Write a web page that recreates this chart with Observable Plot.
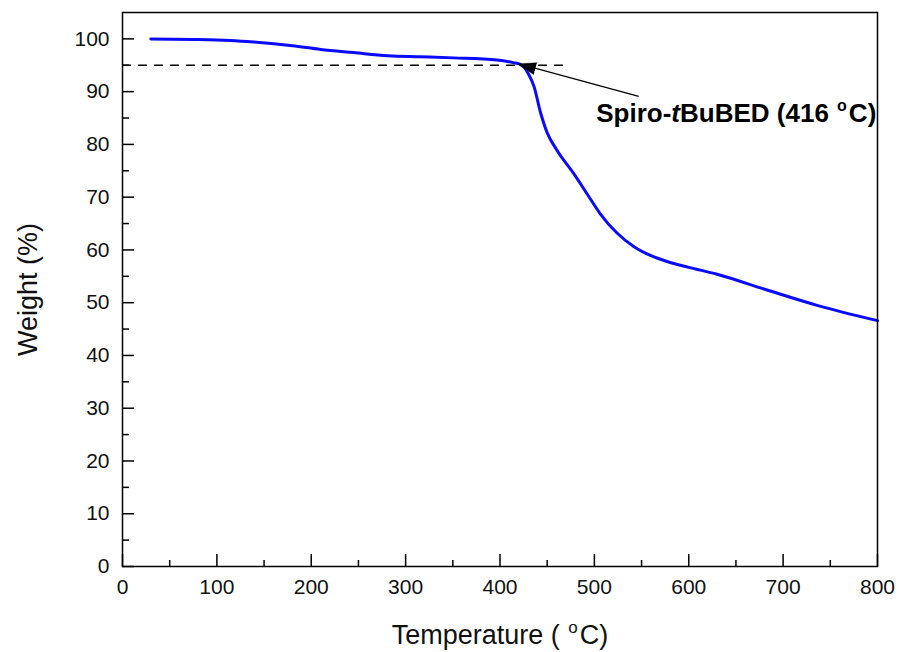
<!DOCTYPE html>
<html><head><meta charset="utf-8">
<script src="https://cdn.jsdelivr.net/npm/d3@7"></script>
<script src="https://cdn.jsdelivr.net/npm/@observablehq/plot@0.6"></script>
<style>html,body{margin:0;padding:0;background:#fff;} svg{display:block}</style>
</head><body><div id="chart"></div>
<script>
// TGA curve values
const temperature = [30, 80, 114, 139, 180, 210, 245, 281, 316, 351, 397, 414, 421, 426, 430, 436, 443, 450, 460, 478, 492, 506, 524, 542, 560, 577, 600, 630, 683, 736, 800];
const weight = [100.0, 99.9, 99.7, 99.4, 98.7, 98.0, 97.4, 96.8, 96.6, 96.4, 96.0, 95.5, 95.2, 94.5, 93.4, 91.0, 86.0, 82.2, 79.0, 74.5, 70.7, 66.9, 63.2, 60.6, 58.9, 57.8, 56.7, 55.4, 52.4, 49.5, 46.6];

// tick values
const xMajor = [0, 100, 200, 300, 400, 500, 600, 700, 800];
const xMinor = [50, 150, 250, 350, 450, 550, 650, 750];
const yMajor = [0, 10, 20, 30, 40, 50, 60, 70, 80, 90, 100];
const yMinor = [5, 15, 25, 35, 45, 55, 65, 75, 85, 95];

// annotation
const refLevel = [95];
const refLineX = [0, 473];
const arrowTail = [547, 89.1];
const arrowBase = [436, 94.5];
const arrowTip = [419, 95.25];
const labelPos = [502, 84.2];
const labelText = "Spiro-tBuBED (416 °C)";
const xTitle = "Temperature ( °C)";
const yTitle = "Weight (%)";

const curve = temperature.map((t, i) => ({t, w: weight[i]}));

const W = 899, H = 652, mL = 122, mR = 22, mT = 12, mB = 86;
const plotW = W - mL - mR, plotH = H - mT - mB;

const svg = Plot.plot({
  width: W, height: H,
  marginLeft: mL, marginRight: mR, marginTop: mT, marginBottom: mB,
  style: {fontFamily: "'Liberation Sans', Arial, sans-serif", color: "#000", background: "#fff", overflow: "visible"},
  x: {domain: [0, 800]},
  y: {domain: [0, 105]},
  marks: [
    Plot.ruleY(refLevel, {y: d => d, x1: refLineX[0], x2: refLineX[1], stroke: "#000", strokeWidth: 1.3, strokeDasharray: "9,7"}),
    Plot.line(curve, {x: "t", y: "w", stroke: "#0a0aff", strokeWidth: 3, curve: "monotone-x"}),
    Plot.link([0], {x1: () => arrowTail[0], y1: () => arrowTail[1], x2: () => arrowBase[0], y2: () => arrowBase[1], stroke: "#000", strokeWidth: 1.2}),
    Plot.vector([0], {x: () => arrowTip[0], y: () => arrowTip[1], length: 18, r: 6, rotate: -74.8, anchor: "end", shape: "spike", fill: "#000", stroke: "#000", strokeWidth: 0.5, fillOpacity: 1}),
    Plot.frame({stroke: "#000", strokeWidth: 1.5}),
    Plot.tickX(xMajor, {x: d => d, insetTop: plotH - 12, stroke: "#000", strokeWidth: 1.5}),
    Plot.tickX(xMinor, {x: d => d, insetTop: plotH - 6, stroke: "#000", strokeWidth: 1.5}),
    Plot.tickY(yMajor, {y: d => d, insetRight: plotW - 12, stroke: "#000", strokeWidth: 1.5}),
    Plot.tickY(yMinor, {y: d => d, insetRight: plotW - 7, stroke: "#000", strokeWidth: 1.5}),
    Plot.axisX(xMajor, {anchor: "bottom", tickSize: 0, tickPadding: 13, fontSize: 21, label: null, fill: "#111"}),
    Plot.axisY(yMajor, {anchor: "left", tickSize: 0, tickPadding: 13, fontSize: 21, label: null, fill: "#111"}),
    Plot.text([labelText], {x: () => labelPos[0], y: () => labelPos[1], text: d => d, textAnchor: "start", lineAnchor: "bottom", fontSize: 26, fontWeight: "bold", fill: "#000"}),
    Plot.text([xTitle], {frameAnchor: "bottom", text: d => d, dy: 77, textAnchor: "middle", lineAnchor: "bottom", fontSize: 27, fill: "#111"}),
    Plot.text([yTitle], {frameAnchor: "left", text: d => d, dx: -86, rotate: -90, textAnchor: "middle", lineAnchor: "bottom", fontSize: 27, fill: "#111"})
  ]
});

// rich text: superscript "o" and italic "t"
const NS = "http://www.w3.org/2000/svg";
function rebuild(t, parts, fs) {
  while (t.firstChild) t.removeChild(t.firstChild);
  let raised = 0;
  for (const p of parts) {
    const ts = document.createElementNS(NS, "tspan");
    ts.textContent = p.s;
    if (p.sup) {
      const r = Math.round(fs * 0.42);
      ts.setAttribute("font-size", Math.round(fs * 0.62));
      ts.setAttribute("dy", -r);
      ts.setAttribute("dx", 1);
      raised = r;
    } else if (raised) {
      ts.setAttribute("dy", raised);
      ts.setAttribute("dx", 2);
      raised = 0;
    }
    if (p.it) ts.setAttribute("font-style", "italic");
    t.appendChild(ts);
  }
}
svg.querySelectorAll("text").forEach(t => {
  const s = t.textContent;
  if (s === labelText) {
    rebuild(t, [{s: "Spiro-"}, {s: "t", it: true}, {s: "BuBED (416 "}, {s: "o", sup: true}, {s: "C)"}], 26);
  } else if (s === xTitle) {
    rebuild(t, [{s: "Temperature ( "}, {s: "o", sup: true}, {s: "C)"}], 27);
  }
});

document.getElementById("chart").appendChild(svg);
</script>
</body></html>
